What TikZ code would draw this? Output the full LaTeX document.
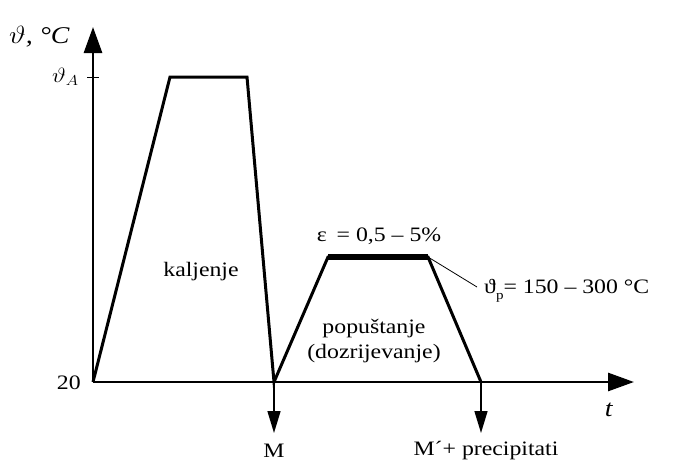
\documentclass[tikz,border=0pt]{standalone}
\usepackage{fontspec}
\setmainfont{Liberation Serif}
\usetikzlibrary{arrows.meta}
\newcommand{\mysub}[1]{\raisebox{-0.3em}{\fontsize{13}{15}\selectfont #1}}
\begin{document}
\begin{tikzpicture}[x=1pt,y=-1pt,
  txt/.style={font=\fontsize{20.5}{24}\selectfont, xscale=1.16, inner sep=0pt},
  curve/.style={line width=3pt, line join=miter},
  axis/.style={line width=2.8pt, -{Triangle[length=26pt,width=18pt]}},
  down/.style={line width=1.5pt, -{Triangle[length=22pt,width=13pt]}}]
\useasboundingbox (0,0) rectangle (674,463);
% coordinates
\coordinate (O) at (93,382);
\coordinate (ytip) at (93,27);
\coordinate (xtip) at (634,382);
\coordinate (A1) at (170,77);
\coordinate (A2) at (247,77);
\coordinate (M) at (274,382);
\coordinate (B1) at (328,257);
\coordinate (B2) at (428,257);
\coordinate (P) at (481,382);
\coordinate (lead) at (477,287);
\coordinate (Mdown) at (274,433);
\coordinate (Pdown) at (481,433);
% axes
\draw[axis] (O) -- (ytip);
\draw[axis] (O) -- (xtip);
\draw[line width=1pt] (87,77) -- (99,77);
% curves
\draw[curve] (O) -- (A1) -- (A2) -- (M) -- (B1) -- (B2) -- (P);
\draw[line width=6pt] (B1) -- (B2);
\draw[line width=0.8pt] (B2) -- (lead);
% down arrows
\draw[down] (M) -- (Mdown);
\draw[down] (P) -- (Pdown);
% labels
\node[txt, anchor=west, font=\fontsize{24}{28}\selectfont] (ylab) at (9,37) {$\vartheta$\textit{, °C}};
\node[txt, anchor=east] (thA) at (79,77) {$\vartheta_{A}$};
\node[txt, anchor=east] (n20) at (81,383) {20};
\node[txt] (kal) at (201,272) {kaljenje};
\node[txt] (eps) at (379,236) {ε\ \,= 0,5 – 5\%};
\node[txt, anchor=west] (thp) at (484,291) {ϑ\mysub{p}= 150 – 300 °C};
\node[txt] (pop) at (374,329) {popuštanje};
\node[txt] (doz) at (374,354) {(dozrijevanje)};
\node[txt, font=\fontsize{24}{28}\selectfont] (t) at (609,410) {\textit{t}};
\node[txt] (Mlab) at (274,451) {M};
\node[txt] (Plab) at (486,451) {M´+ precipitati};
\end{tikzpicture}
\end{document}
